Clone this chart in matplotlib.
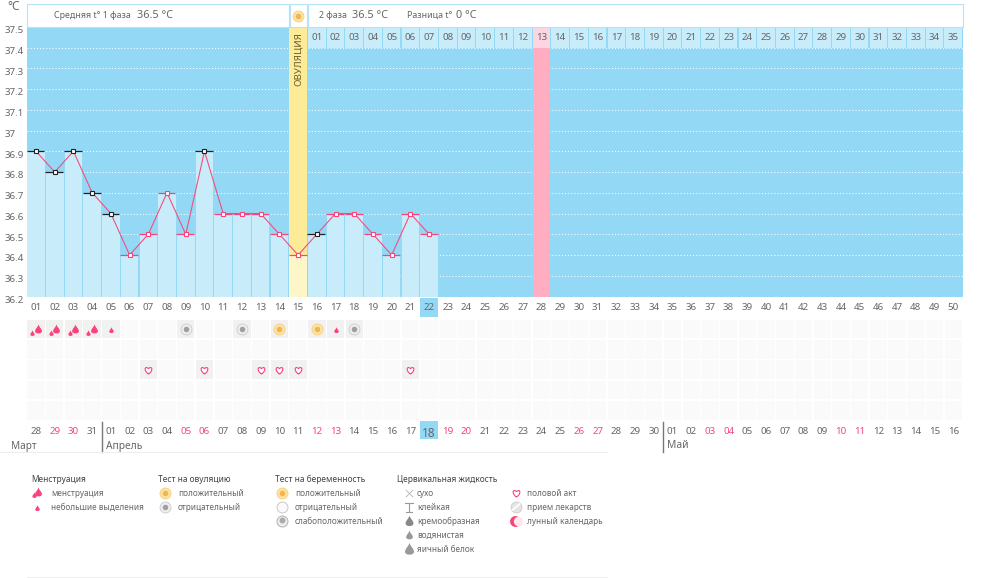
import matplotlib as mpl
mpl.use('AGG')
import matplotlib.pyplot as plt
from matplotlib.path import Path
from matplotlib.patches import Rectangle
from matplotlib.transforms import ScaledTranslation

mpl.rc('font', **{'family': 'Noto Sans', 'size': 7})

# chart data
days = list(range(1, 23))
temps = [36.9, 36.8, 36.9, 36.7, 36.6, 36.4, 36.5, 36.7, 36.5, 36.9, 36.6,
         36.6, 36.6, 36.5, 36.4, 36.5, 36.6, 36.6, 36.5, 36.4, 36.6, 36.5]
black_days = [1, 2, 3, 4, 5, 10, 16]
ovulation_day = 15
expected_day = 28
today = 22
y_ticks = [37.5, 37.4, 37.3, 37.2, 37.1, 37, 36.9, 36.8, 36.7, 36.6, 36.5, 36.4, 36.3, 36.2]

# row 0 = flow and ovulation test, row 2 = hearts
flow_big = [1, 2, 3, 4]
flow_small = [5, 17]
test_neg = [9, 12, 18]
test_pos = [14, 16]
heart_days = [7, 10, 13, 14, 15, 21]

date_labels = ['28', '29', '30', '31'] + ['%02d' % d for d in range(1, 31)] + ['%02d' % d for d in range(1, 17)]
red_cols = [2, 3, 9, 10, 16, 17, 23, 24, 30, 31, 37, 38, 44, 45]

BG_BLUE = '#93d9f6'
BAR_BLUE = '#c9ecfb'
PINK = '#f8447a'
GRAY = '#666666'

HEART = Path([(0, -1), (-1.6, 0.2), (-0.8, 1.4), (0, 0.5), (0.8, 1.4), (1.6, 0.2), (0, -1)],
             [Path.MOVETO, Path.CURVE4, Path.CURVE4, Path.CURVE4, Path.CURVE4, Path.CURVE4, Path.CURVE4])
DROP = Path([(0, 1.2), (0.2, 0.5), (0.9, 0.1), (0.8, -0.5), (0.7, -1.1), (-0.7, -1.1), (-0.8, -0.5), (-0.9, 0.1), (-0.2, 0.5), (0, 1.2)],
            [Path.MOVETO] + [Path.CURVE4] * 9)


def px_axes(fig, left, top, right, bottom):
    return fig.add_axes([left / 1000, 1 - bottom / 578, (right - left) / 1000, (bottom - top) / 578])


def flow_icon(ax, x, y, big=True):
    size = 52 if big else 22
    ax.scatter([x], [y], marker=DROP, s=size, color=PINK, linewidths=0, zorder=5)


def test_icon(ax, x, y, positive):
    outer = '#fbe3a8' if positive else '#eeeeee'
    ring = '#f8d480' if positive else '#d0d0d0'
    core = '#f4b450' if positive else '#a0a0a0'
    ax.scatter([x], [y], s=62, color=outer, edgecolors=ring, linewidths=0.7, zorder=5)
    ax.scatter([x], [y], s=16, color=core, linewidths=0, zorder=6)


fig = plt.figure(figsize=(10, 5.78), dpi=100, facecolor='white')

# temperature chart
ax = px_axes(fig, 26.65, 26.75, 962.65, 296.5)
ax.set_facecolor(BG_BLUE)
ax.set_xlim(0.5, 50.5)
ax.set_ylim(36.2, 37.5)
for s in ax.spines.values():
    s.set_visible(False)
ax.set_axisbelow('line')
ax.yaxis.grid(True, color='white', linestyle=(0, (1, 2)), linewidth=0.75)

ax.bar([ovulation_day], [1.3], bottom=36.2, width=0.93, color='#fdeb98', zorder=2)
ax.bar([expected_day], [1.3], bottom=36.2, width=0.95, color='#ffadc1', zorder=2)

bar_colors = ['#fdf6c8' if d == ovulation_day else BAR_BLUE for d in days]
ax.bar(days, [t - 36.2 for t in temps], bottom=36.2, width=0.94, color=bar_colors, zorder=2.1)

# second phase day counter row
phase2_cols = list(range(ovulation_day + 1, 51))
counter_colors = ['#fdd5e0' if c == expected_day else BAR_BLUE for c in phase2_cols]
ax.bar(phase2_cols, [0.1] * len(phase2_cols), bottom=37.4, width=0.94, color=counter_colors, zorder=2.1)
for i, c in enumerate(phase2_cols):
    ax.text(c, 37.45, '%02d' % (i + 1), ha='center', va='center', color=GRAY, fontsize=7, zorder=4)

ax.text(ovulation_day, 37.214, 'ОВУЛЯЦИЯ', rotation=90, ha='center', va='bottom', color='#6b5f30', fontsize=7, zorder=4)

for d, t in zip(days, temps):
    c = '#222222' if d in black_days else PINK
    ax.plot([d - 0.5, d + 0.45], [t, t], color=c, linewidth=0.9, zorder=3, solid_capstyle='butt')
ax.plot(days, temps, color='#f0507f', linewidth=0.8, zorder=4)
for d, t in zip(days, temps):
    c = '#222222' if d in black_days else PINK
    ax.plot([d], [t], marker='s', markersize=3.2, markerfacecolor='white', markeredgecolor=c,
            markeredgewidth=0.8, zorder=5, linestyle='none')

ax.bar([today], [0.092], bottom=36.101, width=0.95, color=BG_BLUE, clip_on=False, zorder=1)

ax.set_yticks(y_ticks)
ax.set_yticklabels(['%g' % v for v in y_ticks])
ax.set_xticks(range(1, 51))
ax.set_xticklabels(['%02d' % c for c in range(1, 51)])
ax.tick_params(axis='both', length=0, labelcolor=GRAY, labelsize=7)
ax.tick_params(axis='x', pad=5)
ax.tick_params(axis='y', pad=15.6)
for lab in ax.get_yticklabels():
    lab.set_ha('left')
    lab.set_transform(lab.get_transform() + ScaledTranslation(0, -2 / 72, fig.dpi_scale_trans))

# symbol rows and calendar dates
grid = px_axes(fig, 26.65, 319, 962.65, 420.5)
grid.set_xlim(0.5, 50.5)
grid.set_ylim(5, 0)
grid.patch.set_alpha(0)
for s in grid.spines.values():
    s.set_visible(False)
for row in range(5):
    grid.bar(range(1, 51), [0.93] * 50, bottom=row + 0.03, width=0.93, color='#fafafa', zorder=1)

marked = [(d, 0) for d in flow_big + flow_small + test_neg + test_pos] + [(d, 2) for d in heart_days]
for d, row in marked:
    grid.bar([d], [0.93], bottom=row + 0.03, width=0.93, color='#f1f1f1', zorder=2)

for d in flow_big:
    flow_icon(grid, d + 0.08, 0.47)
    grid.scatter([d - 0.2], [0.68], marker=DROP, s=20, color=PINK, linewidths=0, zorder=5)
for d in flow_small:
    flow_icon(grid, d, 0.55, big=False)
for d in test_neg:
    test_icon(grid, d, 0.5, False)
for d in test_pos:
    test_icon(grid, d, 0.5, True)
grid.scatter(heart_days, [2.5] * len(heart_days), marker=HEART, s=70, facecolor='white',
             edgecolor=PINK, linewidths=0.8, zorder=5)

grid.bar([today], [0.9], bottom=5.03, width=0.95, color=BG_BLUE, clip_on=False, zorder=1)
grid.set_yticks([])
grid.set_xticks(range(1, 51))
grid.set_xticklabels(date_labels)
grid.tick_params(axis='x', length=0, labelcolor=GRAY, labelsize=7, pad=5)
for i, lab in enumerate(grid.get_xticklabels()):
    col = i + 1
    if col in red_cols:
        lab.set_color(PINK)
    if col == today:
        lab.set_fontsize(8.5)

# page furniture: headers, months, legend
page = fig.add_axes([0, 0, 1, 1], zorder=10)
page.set_xlim(0, 1000)
page.set_ylim(578, 0)
page.axis('off')
page.patch.set_alpha(0)

for x0, x1 in [(27, 288.5), (290, 307), (308, 962.5)]:
    page.add_patch(Rectangle((x0, 3.5), x1 - x0, 23, facecolor='white', edgecolor='#b5e3f7', linewidth=0.8))
test_icon(page, 298, 16, True)

page.text(14, 6.5, '°C', ha='center', va='center', color=GRAY, fontsize=8.5)
page.text(54, 15.5, 'Средняя t° 1 фаза', va='center', color=GRAY, fontsize=6.4)
page.text(137, 15, '36.5 °C', va='center', color=GRAY, fontsize=7.8)
page.text(319, 15.5, '2 фаза', va='center', color=GRAY, fontsize=6.4)
page.text(352, 15, '36.5 °C', va='center', color=GRAY, fontsize=7.8)
page.text(407, 15.5, 'Разница t°', va='center', color=GRAY, fontsize=6.4)
page.text(456, 15, '0 °C', va='center', color=GRAY, fontsize=7.8)

page.text(11, 446, 'Март', va='center', color=GRAY, fontsize=7.2)
page.text(106, 446, 'Апрель', va='center', color=GRAY, fontsize=7.4)
page.text(667, 446, 'Май', va='center', color=GRAY, fontsize=7.4)
page.plot([102, 102], [422, 452], color='#777777', linewidth=1)
page.plot([663, 663], [422, 452], color='#777777', linewidth=1)
page.plot([0, 607], [451.5, 451.5], color='#eeeeee', linewidth=0.8)
page.plot([27, 607], [577, 577], color='#eeeeee', linewidth=0.8)

headings = [(31, 'Менструация'), (158, 'Тест на овуляцию'), (275, 'Тест на беременность'), (397, 'Цервикальная жидкость')]
for x, t in headings:
    page.text(x, 479, t, va='center', color='#444444', fontsize=6.0, fontweight='semibold')

col1 = ['менструация', 'небольшие выделения']
col2 = ['положительный', 'отрицательный']
col3 = ['положительный', 'отрицательный', 'слабоположительный']
col4 = ['сухо', 'клейкая', 'кремообразная', 'водянистая', 'яичный белок']
col5 = ['половой акт', 'прием лекарств', 'лунный календарь']
rows_y = [493, 507, 521, 535, 549]
for x, labels in [(51, col1), (178, col2), (295, col3), (417, col4), (527, col5)]:
    for y, t in zip(rows_y, labels):
        page.text(x, y, t, va='center', color=GRAY, fontsize=5.9)

flow_icon(page, 38, 492)
page.scatter([34], [495], marker=DROP, s=20, color=PINK, linewidths=0, zorder=5)
flow_icon(page, 37, 507.5, big=False)
test_icon(page, 165, 493, True)
test_icon(page, 165, 507, False)
test_icon(page, 282, 493, True)
page.scatter([282], [507], s=62, color='#fafafa', edgecolors='#c8c8c8', linewidths=0.7, zorder=5)
page.scatter([282], [521], s=62, color='#eeeeee', edgecolors='#b0b0b0', linewidths=0.7, zorder=5)
page.scatter([282], [520], s=18, color='#aaaaaa', linewidths=0, zorder=6)

page.scatter([409], [493], marker='x', s=28, color='#b5b5b5', linewidths=0.6)
page.plot([405, 413], [503, 503], color='#999999', linewidth=0.8)
page.plot([409, 409], [503, 511], color='#999999', linewidth=0.8)
page.plot([406, 412], [511.5, 511.5], color='#999999', linewidth=0.8)
page.scatter([409], [521], marker=DROP, s=70, color='#888888', linewidths=0)
page.scatter([409], [535], marker=DROP, s=50, color='#999999', linewidths=0)
page.scatter([409], [549], marker=DROP, s=90, color='#999999', linewidths=0)

page.scatter([516], [493], marker=HEART, s=70, facecolor='white', edgecolor=PINK, linewidths=0.8)
page.scatter([516], [507], s=62, color='#e4e4e4', edgecolors='#cccccc', linewidths=0.6)
page.plot([512.5, 519.5], [510, 504], color='white', linewidth=1.2)
page.scatter([515], [521], s=62, color=PINK, linewidths=0)
page.scatter([518], [521], s=45, color='#fde8ee', linewidths=0)

fig.savefig('out.png', dpi=100, facecolor='white')
